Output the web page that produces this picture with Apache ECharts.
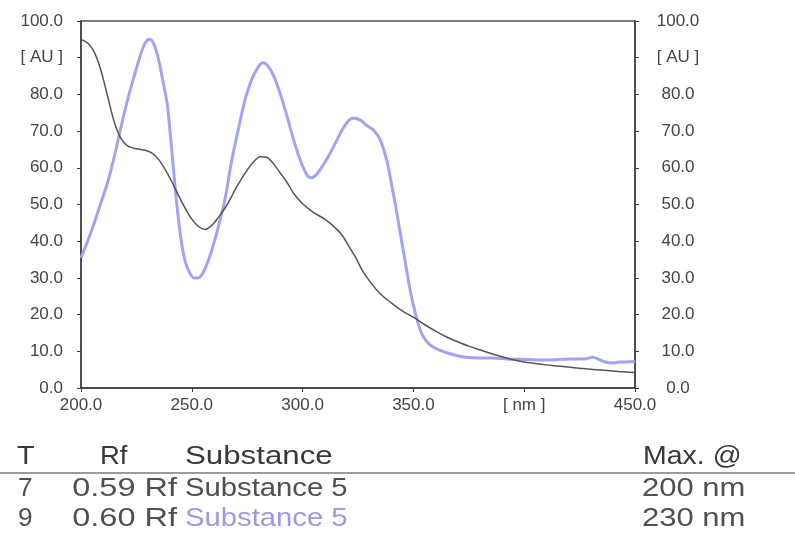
<!DOCTYPE html>
<html>
<head>
<meta charset="utf-8">
<script src="https://cdn.jsdelivr.net/npm/echarts@6/dist/echarts.min.js"></script>
<style>html,body{margin:0;padding:0;background:#fff;}#c{width:795px;height:540px;}</style>
</head>
<body>
<div id="c"></div>
<script>
// Track 7 (black) spectrum
var nm7 = [200,203,206,209,212,215,218,221,225,229,232,235,238,241,244,247,250,253,256,259,262,266,270,274,278,281,284,287,290,293,296,300,305,310,315,318,321,324,327,331,335,340,345,350,355,360,365,370,375,380,385,390,395,400,405,410,415,420,425,430,435,440,445,450];
var au7 = [95.0,94.0,91.5,86.5,79.5,72.5,68.0,66.0,65.2,64.8,64.0,62.3,59.5,56.2,52.5,49.0,46.0,44.0,43.2,44.3,46.5,50.0,54.5,58.5,61.7,63.0,62.8,61.0,58.5,56.0,53.0,50.2,47.8,46.0,43.5,41.5,38.5,35.5,32.0,28.5,25.7,23.2,21.0,19.3,17.3,15.5,13.9,12.6,11.4,10.4,9.4,8.5,7.7,7.1,6.7,6.3,6.0,5.7,5.4,5.1,4.9,4.6,4.4,4.2];
// Track 9 (blue) spectrum
var nm9 = [200,203,206,209,212,215,218,221,224,227,229,231,233,235,237,239,241,243,245,247,249,251,253,255,257,259,262,265,268,271,274,277,280,282,284,287,290,293,296,299,302,304,306,309,312,315,318,321,323,326,329,332,335,338,340,342,344,346,348,350,352,354,357,361,365,370,375,380,386,392,398,404,410,416,422,428,431,434,437,440,443,446,450];
var au9 = [35.5,40.0,45.0,50.5,56.0,63.0,71.0,78.5,85.0,91.0,94.0,95.0,93.5,89.5,83.5,77.0,64.5,51.5,41.0,34.5,31.5,30.0,30.0,31.3,34.0,37.5,44.0,51.5,62.0,70.5,78.5,84.0,87.5,88.6,88.0,85.0,80.0,74.0,67.5,62.0,58.0,57.3,58.0,60.5,63.5,67.0,70.5,73.0,73.6,73.0,71.5,70.3,67.6,62.0,56.0,49.5,42.5,35.5,28.5,22.5,17.8,14.5,12.0,10.5,9.6,8.8,8.3,8.2,8.2,7.9,7.8,7.7,7.6,7.8,7.9,8.0,8.4,7.7,7.0,6.8,7.1,7.1,7.2];
// Tick labels
var xTicks = [200,250,300,350,400,450];
var xTickLabels = ['200.0','250.0','300.0','350.0','[ nm ]','450.0'];
var yTicks = [0,10,20,30,40,50,60,70,80,90,100];
var yTickLabels = ['0.0','10.0','20.0','30.0','40.0','50.0','60.0','70.0','80.0','[ AU ]','100.0'];
// Table
var tableHeader = ['T','Rf','Substance','Max. @'];
var tableTracks = ['7','9'];
var tableRf = ['0.59 Rf','0.60 Rf'];
var tableSubstances = ['Substance 5','Substance 5'];
var tableMax = ['200 nm','230 nm'];

function zip(a,b){var r=[];for(var i=0;i<a.length;i++)r.push([a[i],b[i]]);return r;}
function lbl(list, ticks){return function(v){var i=ticks.indexOf(Math.round(v));return i>=0?list[i]:'';};}

var AX = '#3c3c3c', TXT = '#444';
var FONT = 'Liberation Sans, Arial, sans-serif';
var blueCol = '#a3a3f2', blackCol = '#555555';

var chart = echarts.init(document.getElementById('c'), null, {renderer:'canvas'});

function t(x,y,text,sx,fill,align){
  return {type:'text', x:x, y:y, scaleX:sx, silent:true,
    style:{text:text, fill:fill, font:'25px ' + FONT, textAlign:align||'left', textVerticalAlign:'middle'}};
}
var hdrCol = '#383838', rowCol = '#505050', rowBlue = '#9a9ae6';
var g = [];
g.push(t(17,457,tableHeader[0],1.15,hdrCol));
g.push(t(100,457,tableHeader[1],1.1,hdrCol));
g.push(t(185,457,tableHeader[2],1.25,hdrCol));
g.push(t(643,457,tableHeader[3],1.14,hdrCol));
g.push({type:'line', silent:true, shape:{x1:0,y1:473,x2:795,y2:473}, style:{stroke:'#7a7a7a', lineWidth:1.6}});
var rowY = [489,519];
for (var i=0;i<2;i++){
  g.push(t(18,rowY[i],tableTracks[i],1.05,rowCol));
  g.push(t(177,rowY[i],tableRf[i],1.3,rowCol,'right'));
  g.push(t(185,rowY[i],tableSubstances[i],1.17,i===1?rowBlue:rowCol));
  g.push(t(642,rowY[i],tableMax[i],1.24,rowCol));
}

chart.setOption({
  animation:false,
  backgroundColor:'#ffffff',
  grid:{left:81,right:160,top:21,bottom:152,show:true,borderColor:'#555',borderWidth:1.5,containLabel:false,outerBoundsMode:'none'},
  xAxis:{type:'value',min:200,max:450,interval:50,
    axisLine:{show:true,onZero:false,lineStyle:{color:AX,width:1.5}},
    axisTick:{show:true,length:4,lineStyle:{color:AX}},
    splitLine:{show:false},
    axisLabel:{margin:9,color:TXT,fontSize:17,fontFamily:FONT,formatter:lbl(xTickLabels,xTicks),showMinLabel:true,showMaxLabel:true}},
  yAxis:[
    {type:'value',min:0,max:100,interval:10,position:'left',
      axisLine:{show:true,lineStyle:{color:AX,width:1.5}},
      axisTick:{show:true,length:4,lineStyle:{color:AX}},
      splitLine:{show:false},
      axisLabel:{margin:18,color:TXT,fontSize:17,fontFamily:FONT,formatter:lbl(yTickLabels,yTicks),showMinLabel:true,showMaxLabel:true}},
    {type:'value',min:0,max:100,interval:10,position:'right',
      axisLine:{show:true,lineStyle:{color:AX,width:1.5}},
      axisTick:{show:true,length:4,lineStyle:{color:AX}},
      splitLine:{show:false},
      axisLabel:{margin:43,align:'center',color:TXT,fontSize:17,fontFamily:FONT,formatter:lbl(yTickLabels,yTicks),showMinLabel:true,showMaxLabel:true}}
  ],
  series:[
    {name:'Track 9',type:'line',data:zip(nm9,au9),smooth:0.3,showSymbol:false,lineStyle:{color:blueCol,width:3},z:2},
    {name:'Track 7',type:'line',data:zip(nm7,au7),smooth:0.3,showSymbol:false,lineStyle:{color:blackCol,width:1.5},z:3}
  ],
  graphic:g
});
</script>
</body>
</html>
